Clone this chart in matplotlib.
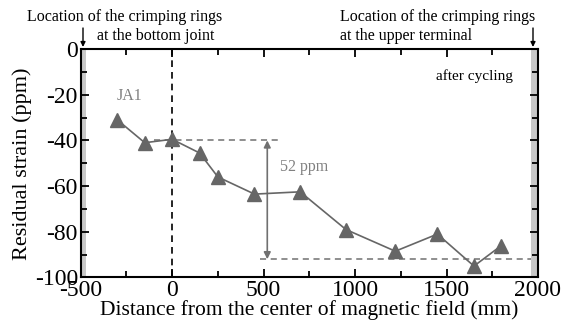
import matplotlib
matplotlib.use("Agg")
import matplotlib.pyplot as plt
from matplotlib.ticker import MultipleLocator

plt.rcParams['font.family'] = ['Liberation Serif', 'DejaVu Serif']
plt.rcParams['axes.unicode_minus'] = False

# residual strain along the conductor after cycling (JA1)
distance_mm = [-300, -150, 0, 150, 250, 450, 700, 950, 1220, 1450, 1650, 1800]
strain_ppm = [-31, -41, -39.5, -45.5, -56, -63.5, -62.5, -79, -88.5, -81, -95, -86]

upper_level = -40
lower_level = -92
arrow_x = 520

fig = plt.figure(figsize=(5.66, 3.27), dpi=100)
ax = fig.add_axes([0.1426, 0.1514, 0.8079, 0.6986])

# shaded zones where the crimping rings sit
ax.axvspan(-500, -470, color='#c8c8c8', lw=0, zorder=0)
ax.axvspan(1960, 2000, color='#c8c8c8', lw=0, zorder=0)

ax.axvline(0, color='black', ls=(0, (4, 3)), lw=1.2, zorder=1)

ax.plot([-100, 590], [upper_level, upper_level], color='#707070', ls=(0, (4, 3)), lw=1.1)
ax.plot([480, 1960], [lower_level, lower_level], color='#707070', ls=(0, (4, 3)), lw=1.1)
ax.annotate('', xy=(arrow_x, upper_level), xytext=(arrow_x, lower_level),
            arrowprops=dict(arrowstyle='<|-|>', color='#707070', lw=1.2,
                            mutation_scale=10, shrinkA=0, shrinkB=0))
ax.text(590, -51.5, f'{upper_level - lower_level} ppm', color='#808080',
        fontsize=11.5, ha='left', va='center')

ax.plot(distance_mm, strain_ppm, color='#666666', lw=1.2, marker='^',
        markersize=10.5, markerfacecolor='#666666', markeredgecolor='#666666', zorder=3)

ax.text(-235, -20.5, 'JA1', color='#808080', fontsize=11.5, ha='center', va='center')
ax.text(1650, -12, 'after cycling', color='black', fontsize=11, ha='center', va='center')

ax.set_xlim(-500, 2000)
ax.set_ylim(-100, 0)
ax.xaxis.set_major_locator(MultipleLocator(500))
ax.xaxis.set_minor_locator(MultipleLocator(250))
ax.yaxis.set_major_locator(MultipleLocator(20))
ax.yaxis.set_minor_locator(MultipleLocator(10))
ax.tick_params(which='both', direction='in', top=True, right=True, width=1.3,
               labelsize=17, pad=2)
ax.tick_params(which='major', length=6)
ax.tick_params(which='minor', length=4)
for s in ax.spines.values():
    s.set_linewidth(1.5)

ax.set_xlabel('Distance from the center of magnetic field (mm)', fontsize=15.5, labelpad=-1)
ax.set_ylabel('Residual strain (ppm)', fontsize=16, labelpad=2)

# labels above the frame pointing at the ring locations
fig.text(27 / 566, 1 - 17 / 327, 'Location of the crimping rings', fontsize=11.5,
         ha='left', va='center')
fig.text(97 / 566, 1 - 36 / 327, 'at the bottom joint', fontsize=11.5,
         ha='left', va='center')
fig.text(340 / 566, 1 - 17 / 327, 'Location of the crimping rings', fontsize=11.5,
         ha='left', va='center')
fig.text(340 / 566, 1 - 36 / 327, 'at the upper terminal', fontsize=11.5,
         ha='left', va='center')
for xp in (83, 533):
    ax.annotate('', xy=(xp / 566, 1 - 47 / 327), xytext=(xp / 566, 1 - 28 / 327),
                xycoords='figure fraction', textcoords='figure fraction',
                arrowprops=dict(arrowstyle='-|>', color='black', lw=1.0,
                                mutation_scale=7, shrinkA=0, shrinkB=0))

fig.savefig('out.png', dpi=100)
